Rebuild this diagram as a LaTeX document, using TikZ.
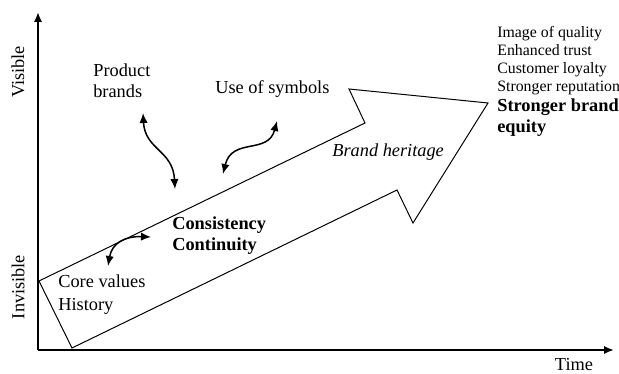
\documentclass[tikz,border=0pt]{standalone}
\usepackage{fontspec}
\setmainfont{Liberation Serif}
\usetikzlibrary{arrows.meta}
\tikzset{>={Latex[length=6pt,width=5pt]}}
\tikzset{lbl/.style={anchor=base west, inner sep=0pt, align=left, font=\fontsize{11}{13}\selectfont}}
\tikzset{small/.style={lbl, font=\fontsize{9.5}{10.8}\selectfont}}
\tikzset{link/.style={<->, line width=0.9pt}}

\begin{document}
\begin{tikzpicture}[x=0.6pt, y=-0.6pt]
    \useasboundingbox(0, 0)rectangle(619, 374);
    % axes
    \coordinate(o)at(38, 350);
    \coordinate(ytop)at(38, 12);
    \coordinate(xend)at(614, 350);
    \draw[->, line width=1.2pt](o)--(ytop);
    \draw[->, line width=1.2pt](o)--(xend);
    \node(vis)at(18, 72)[rotate=90, font=\fontsize{11}{13}\selectfont]{Visible};
    \node(invis)at(18, 287)[rotate=90, font=\fontsize{11}{13}\selectfont]{Invisible};
    \node(time)at(574, 371)[anchor=base, inner sep=0pt, font=\fontsize{11}{13}\selectfont]{Time};
    % big arrow
    \coordinate(a1)at(39, 281);
    \coordinate(a2)at(365, 123);
    \coordinate(a3)at(349, 89);
    \coordinate(tip)at(488, 103);
    \coordinate(a5)at(413, 223);
    \coordinate(a6)at(397, 190);
    \coordinate(a7)at(72, 348);
    \draw[line width=0.6pt, line join=miter](a1)--(a2)--(a3)--(tip)--(a5)--(a6)--(a7)--cycle;
    % labels (base = last line)
    \node(prod)at(93, 98)[lbl]{Product\\brands};
    \node(sym)at(215, 94)[lbl]{Use of symbols};
    \node(herit)at(332, 157)[lbl, font=\fontsize{11}{13}\selectfont\itshape]{Brand heritage};
    \node(cons)at(172, 251)[lbl, font=\fontsize{11}{13}\selectfont\bfseries]{Consistency\\Continuity};
    \node(core)at(58, 288)[lbl]{Core values};
    \node(hist)at(58, 311)[lbl]{History};
    \node(list)at(497, 92)[small]{Image of quality\\Enhanced trust\\Customer loyalty\\Stronger reputation};
    \node(equity)at(497, 133)[lbl, font=\fontsize{11}{13}\selectfont\bfseries]{Stronger brand\\equity};
    % links
    \coordinate(pb1)at(143, 113);
    \coordinate(pb2)at(175, 189);
    \coordinate(us1)at(277, 121);
    \coordinate(us2)at(223, 174);
    \coordinate(cc1)at(151, 237);
    \coordinate(cc2)at(108, 266);
    \draw[link](pb1)..controls(145, 150)and(173, 150)..(pb2);
    \draw[link](us1)..controls(268, 155)and(232, 137)..(us2);
    \draw[link](cc2)..controls(112, 243)and(125, 236)..(cc1);
\end{tikzpicture}
\end{document}
